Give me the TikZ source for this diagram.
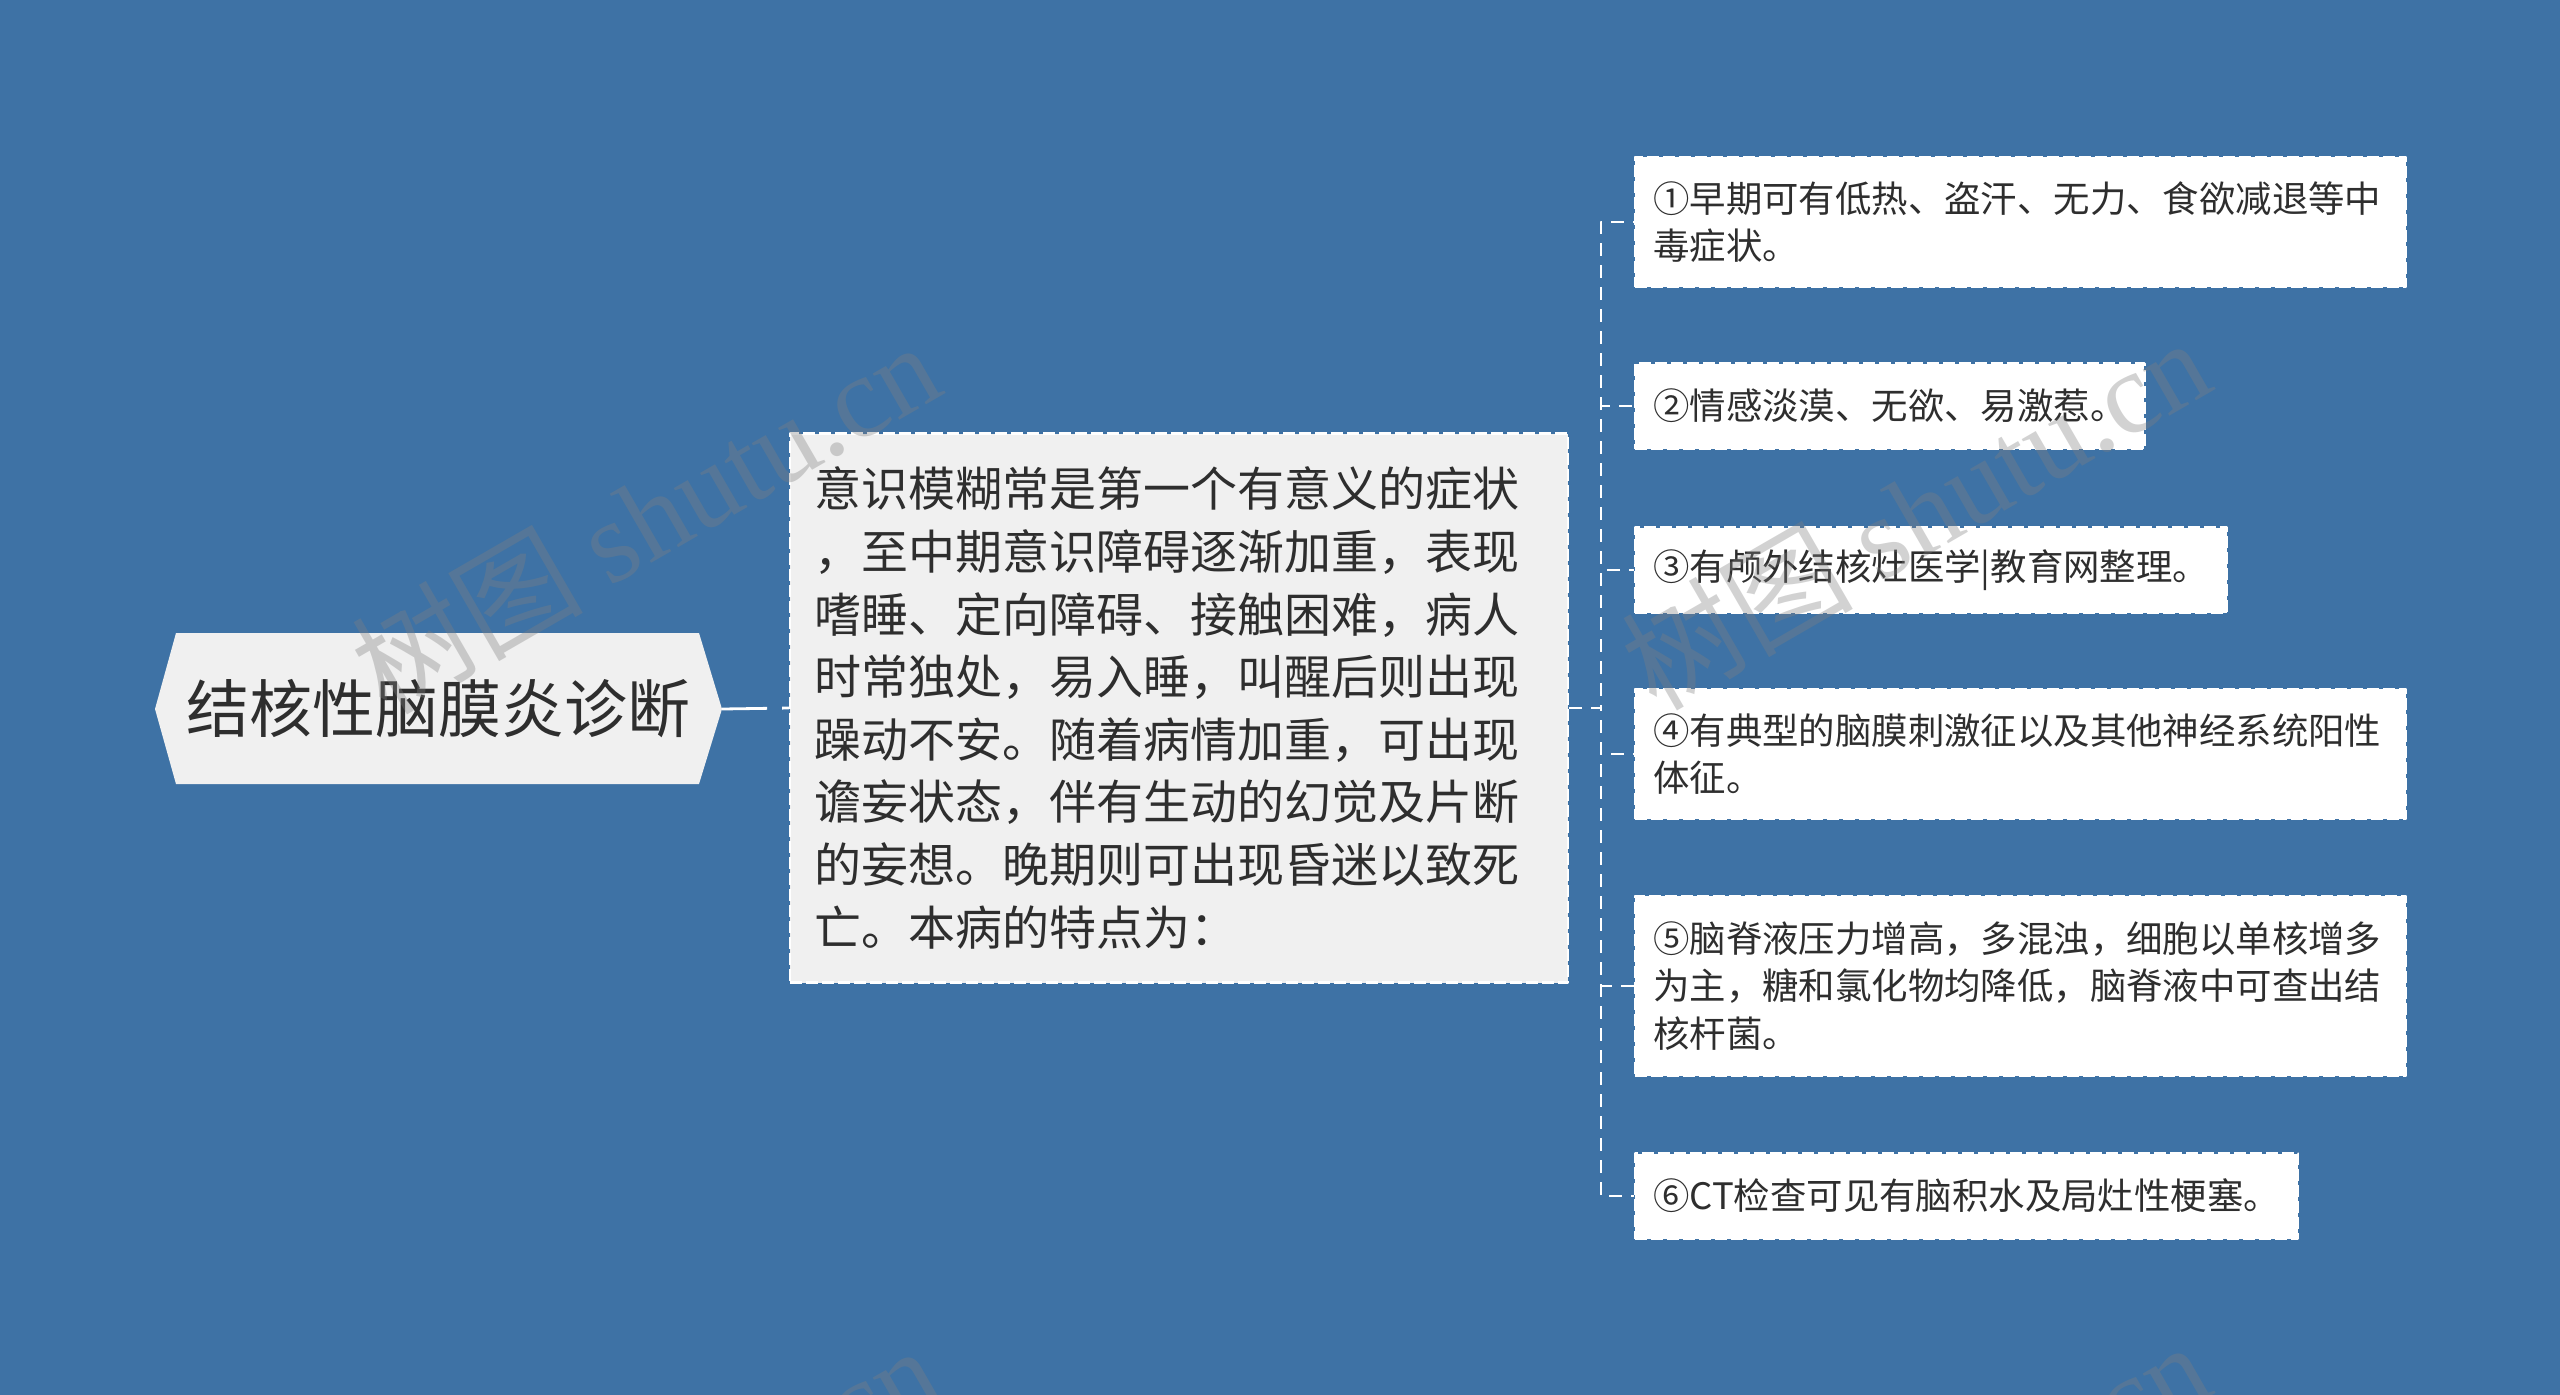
\documentclass[tikz,border=0pt]{standalone}
\usepackage{fontspec}
\setmainfont{Noto Sans CJK SC}
\newfontfamily\markserif{Liberation Serif}
\definecolor{bgblue}{HTML}{3E72A5}
\definecolor{boxgray}{HTML}{F0F0F0}
\definecolor{inkgray}{HTML}{2E2E2E}

\begin{document}
\begin{tikzpicture}[line cap=butt,line join=round,x=1pt,y=-1pt,
  topic/.style={text=inkgray,font=\fontsize{63}{76}\selectfont,inner sep=0pt,minimum width=567pt,minimum height=151pt},
  mainbox/.style={fill=boxgray,draw=white,line width=2.4pt,dash pattern=on 12pt off 4pt,text=inkgray,font=\fontsize{47}{62.6}\selectfont,text width=730pt,inner xsep=24pt,inner ysep=0pt,minimum height=549pt,align=left,anchor=west},
  leaf/.style={fill=white,draw=white,line width=2.4pt,dash pattern=on 12pt off 4pt,text=inkgray,font=\fontsize{36.4}{47.3}\selectfont,inner xsep=18pt,inner ysep=0pt,minimum height=85pt,align=left,anchor=west},
  link/.style={draw=white,line width=2.6pt,dash pattern=on 13pt off 9pt},
  rootlink/.style={draw=white,line width=2.8pt,dash pattern=on 45pt off 15pt},
  wmark/.style={text=gray,opacity=.35,font=\fontsize{116}{120}\selectfont,rotate=30}]
	\useasboundingbox (0,0) rectangle (2560,1395);
	\clip (0,0) rectangle (2560,1395);
	\fill [bgblue] (0,0) rectangle (2560,1395);
	% root
	\fill [boxgray] (155,709) -- (176,633) -- (699,633) -- (722,709) -- (699,784) -- (176,784) -- cycle;
	\node [topic] (root) at (438.5,709) {结核性脑膜炎诊断};
	% middle text
	\node [mainbox] (mid) at (789,708) {意识模糊常是第一个有意义的症状\\，至中期意识障碍逐渐加重，表现\\嗜睡、定向障碍、接触困难，病人\\时常独处，易入睡，叫醒后则出现\\躁动不安。随着病情加重，可出现\\谵妄状态，伴有生动的幻觉及片断\\的妄想。晚期则可出现昏迷以致死\\亡。本病的特点为：};
	% leaves
	\node [leaf,text width=735pt,minimum height=130pt] (c1) at (1634,222) {①早期可有低热、盗汗、无力、食欲减退等中\\毒症状。};
	\node [leaf] (c2) at (1634,406) {②情感淡漠、无欲、易激惹。};
	\node [leaf] (c3) at (1634,570) {③有颅外结核灶医学|教育网整理。};
	\node [leaf,text width=735pt,minimum height=130pt] (c4) at (1634,754) {④有典型的脑膜刺激征以及其他神经系统阳性\\体征。};
	\node [leaf,text width=735pt,minimum height=180pt] (c5) at (1634,986) {⑤脑脊液压力增高，多混浊，细胞以单核增多\\为主，糖和氯化物均降低，脑脊液中可查出结\\核杆菌。};
	\node [leaf] (c6) at (1634,1196) {⑥CT检查可见有脑积水及局灶性梗塞。};
	% connectors
	\draw [rootlink] (root.east) -- (mid.west);
	\coordinate (fork) at (1601,708);
	\foreach \c in {c1,c2,c3,c4,c5,c6}
		\draw [link] (mid.east) -- (fork) |- (\c.west);
	% watermarks
	\node [wmark] at (645,516) {树图 {\markserif shutu.cn}};
	\node [wmark] at (1915,512) {树图 {\markserif shutu.cn}};
	\node [wmark] at (645,1520) {树图 {\markserif shutu.cn}};
	\node [wmark] at (1915,1516) {树图 {\markserif shutu.cn}};
\end{tikzpicture}
\end{document}
